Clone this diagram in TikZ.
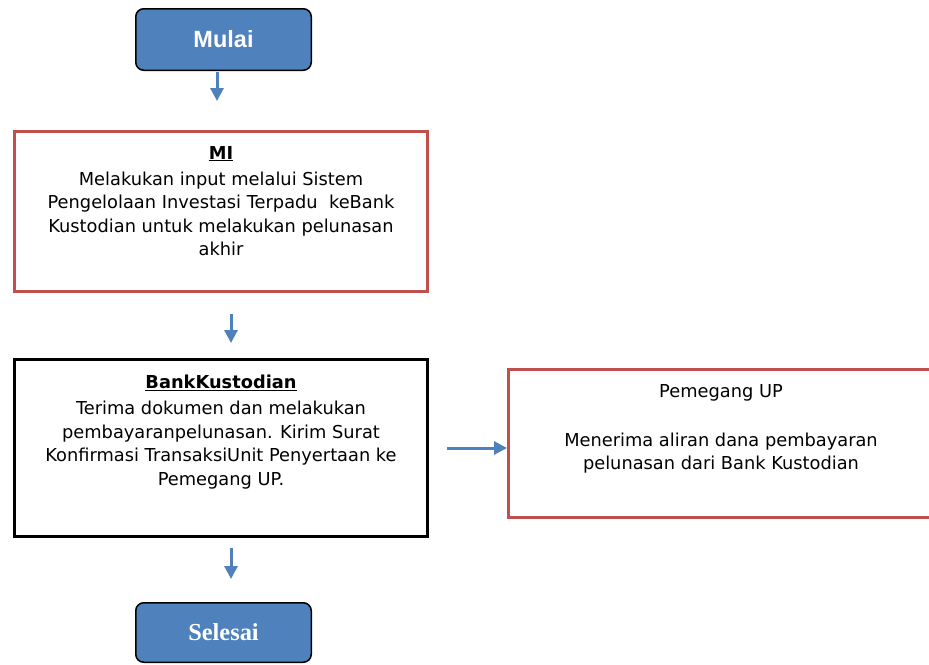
\documentclass[tikz,border=0pt]{standalone}
\usepackage{fontspec}
\setmainfont{DejaVu Sans}
\newfontfamily\serifbold{Liberation Serif}
\newfontfamily\sansbold{Liberation Sans}
\usetikzlibrary{arrows.meta}
\definecolor{blueA}{HTML}{4F81BD}
\definecolor{redA}{HTML}{C0504D}
\tikzset{
  term/.style={draw=black, line width=1.5pt, fill=blueA, rounded corners=8pt,
    minimum width=175.5pt, text=white, inner sep=0pt},
  redbox/.style={draw=redA, line width=3pt, inner sep=0pt},
  blkbox/.style={draw=black, line width=3pt, inner sep=0pt},
  flow/.style={draw=blueA, line width=3pt, -{Triangle[length=13pt,width=13pt]}},
  body/.style={align=center, inner sep=0pt, anchor=north,
    font=\fontsize{17.8}{23.5}\selectfont},
}
\begin{document}
\begin{tikzpicture}[x=1pt,y=-1pt]
\useasboundingbox (0,0) rectangle (929,664);
\clip (0,0) rectangle (929,664);
\fill[white] (0,0) rectangle (929,664);

% terminals
\node[term, minimum height=61.5pt, font=\sansbold\bfseries\fontsize{23.5}{26}\selectfont] (mulai) at (223.5,39.5) {Mulai};
\node[term, minimum height=59.5pt, font=\serifbold\bfseries\fontsize{24.4}{26}\selectfont] (selesai) at (223.5,632.5) {Selesai};

% process boxes
\node[redbox, minimum width=413pt, minimum height=160pt] (mi) at (221,211.5) {};
\node[blkbox, minimum width=413pt, minimum height=177pt] (bank) at (221,448) {};
\node[redbox, minimum width=430pt, minimum height=148pt] (up) at (723.5,443.5) {};

% texts
\node[body] (mitext) at (221,146) {\underline{\textbf{MI}}\\[2.5pt]
Melakukan input melalui Sistem\\
Pengelolaan Investasi Terpadu\ \ keBank\\
Kustodian untuk melakukan pelunasan\\
akhir};
\node[body] (banktext) at (221,375) {\underline{\textbf{BankKustodian}}\\[2.5pt]
Terima dokumen dan melakukan\\
pembayaranpelunasan. Kirim Surat\\
Konfirmasi TransaksiUnit Penyertaan ke\\
Pemegang UP.};
\node[body] (uptext) at (721,384) {Pemegang UP\\[25.5pt]
Menerima aliran dana pembayaran\\
pelunasan dari Bank Kustodian};

% connectors (floating arrows)
\coordinate (a1s) at (217,72);  \coordinate (a1e) at (217,101);
\coordinate (a2s) at (231,314); \coordinate (a2e) at (231,343);
\coordinate (a3s) at (447,448); \coordinate (a3e) at (up.west);
\coordinate (a4s) at (231,548); \coordinate (a4e) at (231,579);
\draw[flow] (a1s) -- (a1e);
\draw[flow] (a2s) -- (a2e);
\draw[flow] (a3s) -- (a3e |- a3s);
\draw[flow] (a4s) -- (a4e);
\end{tikzpicture}
\end{document}
